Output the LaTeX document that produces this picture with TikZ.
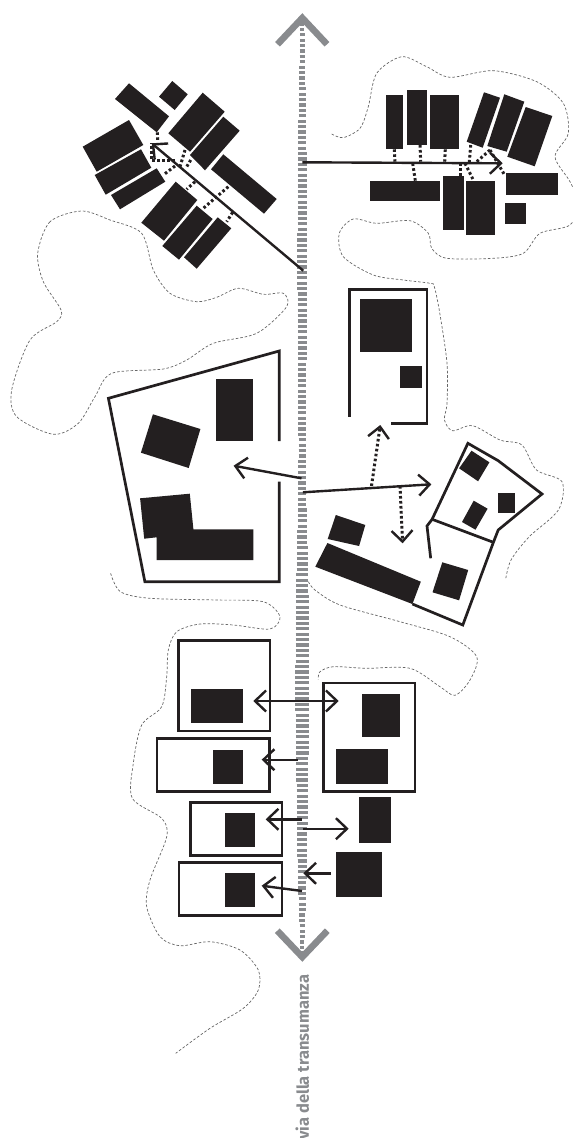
\documentclass[tikz,border=0pt]{standalone}
\usepackage{fontspec}
\setmainfont{Fira Sans}
\usetikzlibrary{arrows.meta}
\definecolor{hutblack}{HTML}{231F20}
\definecolor{roadgray}{HTML}{898B8E}

\begin{document}
\begin{tikzpicture}[
		x=1pt, y=-1pt,
		hut/.style={fill=hutblack},
		wall/.style={draw=hutblack, line width=2.7pt, miter limit=10},
		arrow/.style={draw=hutblack, line width=2.4pt, -{Straight Barb[length=11pt,width=21pt,line width=2.4pt]}},
		twoway/.style={draw=hutblack, line width=2.4pt, {Straight Barb[length=11pt,width=21pt,line width=2.4pt]}-{Straight Barb[length=11pt,width=21pt,line width=2.4pt]}},
		dotlink/.style={draw=hutblack, line width=3pt, dash pattern=on 2.6pt off 2.4pt},
		hedge/.style={draw=black!60, line width=0.7pt, dash pattern=on 2.6pt off 1.9pt},
		rung/.style={draw=roadgray, line width=3.2pt},
		chevron/.style={draw=roadgray, line width=6.6pt, miter limit=10}
		]
		\useasboundingbox (0,0) rectangle (573,1138);
		
		% hedges
		\draw [hedge] plot[smooth] coordinates {(331.7,134) (343.3,137.7) (360,128.3) (368.3,106.7) (376.7,73.3) (401.7,56.7) (426.7,66.7) (450,77.3) (493.3,70.7) (536.7,81.7) (563.3,103.3) (568.3,133.3) (555,156.7) (570,181.7) (578,203) (570,225) (540,233.3) (523.3,253.3) (493.3,258.3) (446.7,258.3) (431.7,248.3) (428.3,233.3) (410,220.7) (376.7,223.3) (353.3,219) (339.3,233.3) (343.3,256.7) (373.3,275) (403.3,280) (430,283.3) (434.3,286.7) (439.8,313.3) (447,363.3) (447,403.3) (444.5,420) (452.6,430.7) (472.6,425.7) (500,440) (521.9,445) (536.5,470) (562,481.7) (558.4,510) (529.2,536.7) (511,560) (505.5,580)};
		\draw [hedge] plot[smooth cycle] coordinates {(81.7,211) (50,221.7) (37.7,253.3) (43.3,281.7) (61,310) (56.7,321.7) (30,340) (11.7,390) (16.7,416.7) (53.3,434.3) (78.3,423.3) (95,396.7) (111.7,373.3) (163.3,369) (186.7,360) (213.3,343.3) (256.7,333.3) (286.7,306.7) (283.3,293.3) (263.3,294.3) (238.3,288.3) (216.7,297.3) (196.7,301.7) (170,293.3) (153.3,270) (141.7,233.3) (110,220)};
		\draw [hedge] plot[smooth] coordinates {(110.6,573.3) (120.4,591.7) (150,598.3) (216.7,600) (263.3,601.7) (280,616.7) (270,629) (233.3,625) (200,624) (176.7,631.7) (168.3,650) (166.7,676.7) (161.7,706.7) (141.7,725) (133.3,763.3) (132.3,798.3) (161.7,818.3) (166.7,836.7) (150,880) (146.7,906.7) (160,936.7) (180,945.7) (210,941.7) (240,950) (258.3,970) (258.3,990) (243.3,1008.3) (210,1028.3) (175.7,1053.3)};
		\draw [hedge] plot[smooth] coordinates {(308.4,581.7) (315,590) (340,605) (400,621.7) (450,636.7) (476.7,656.7) (470,680) (455,695.3) (440,686.7) (410,668.3) (366.7,668.3) (333.3,666.7) (320,671.7) (318.3,679.3)};
		
		% via della transumanza
		\foreach \na/\wa/\nb/\wb in {0/4/14/7, 14/7/27/9, 27/9/46/10, 46/10/60/8.5, 60/8.5/79/7.5, 79/7.5/88/8, 88/8/99/11, 99/11/108/13, 108/13/125/14, 125/14/144/11, 144/11/155/9.5, 155/9.5/163/7, 163/7/172/3.5} {
			\foreach \n in {\na,...,\nb} {
				\pgfmathsetmacro{\rungw}{\wa+(\wb-\wa)*(\n-\na)/(\nb-\na)}
				\draw [rung] ({302.3-\rungw/2},{24+5.4*\n}) -- ({302.3+\rungw/2},{24+5.4*\n});
			}
		}
		\draw [chevron] (277.5,44.3) -- (302.3,18) -- (327,44.3);
		\draw [chevron] (277.3,930.7) -- (302.3,957) -- (327.3,930.7);
		\node (roadname) at (302.3,1140) [rotate=90, anchor=west, inner sep=0pt, text=roadgray, font=\bfseries\fontsize{16.5}{16.5}\selectfont] {via della transumanza};
		
		% upper left cluster
		\draw [dotlink] (157.3,132.3) -- (157.7,141.7);
		\draw [dotlink] (175,160.7) -- (151.7,160.7) -- (151.7,143);
		\draw [dotlink] (185,150) -- (180,166.7);
		\draw [dotlink] (190.7,160) -- (186.7,166.7);
		\draw [dotlink] (175,166) -- (163.3,175);
		\draw [dotlink] (195,181.7) -- (186.7,189.3);
		\draw [dotlink] (228.3,186.7) -- (203.3,208.3);
		\draw [dotlink] (232.7,212.3) -- (226.7,221.7);
		\fill [hut] (129,83.3) -- (169,116.3) -- (156.7,132.3) -- (115,99) -- cycle;
		\fill [hut] (172.3,81) -- (187.7,94.3) -- (174.7,110) -- (159,96.7) -- cycle;
		\fill [hut] (202.7,92.7) -- (224.7,111.7) -- (190,151.7) -- (168.3,133.3) -- cycle;
		\fill [hut] (223.3,116.7) -- (239.7,130.7) -- (205,170.3) -- (190,155) -- cycle;
		\fill [hut] (223.3,154.3) -- (276.7,199) -- (264,213.7) -- (211,169.3) -- cycle;
		\fill [hut] (129,120) -- (143.3,145) -- (96.7,171.7) -- (82.7,146.7) -- cycle;
		\fill [hut] (141,149.3) -- (151.3,167.7) -- (105.7,194.7) -- (94.7,175) -- cycle;
		\fill [hut] (156.7,168.3) -- (165.3,181.7) -- (120,209.3) -- (111,195) -- cycle;
		\fill [hut] (175.7,181.7) -- (197.3,200) -- (164,240.7) -- (141.3,222.7) -- cycle;
		\fill [hut] (196.7,205.7) -- (212.7,219) -- (179,259.7) -- (162.3,246) -- cycle;
		\fill [hut] (217.7,217.3) -- (231.3,228.3) -- (196.7,268.7) -- (184,257.3) -- cycle;
		\draw [arrow] (303.3,270.7) -- (151.7,143.3);
		
		% upper right cluster
		\draw [dotlink] (394.3,149.3) -- (395,161.7);
		\draw [dotlink] (420,145) -- (420.7,161.7);
		\draw [dotlink] (445.3,149.3) -- (444.7,161.7);
		\draw [dotlink] (470.7,145) -- (469.3,162.3);
		\draw [dotlink] (490,150) -- (476.7,161.7);
		\draw [dotlink] (490,150) -- (505,175.7);
		\draw [dotlink] (412.7,163.3) -- (415.3,180.7);
		\draw [dotlink] (460,163.3) -- (460,176);
		\draw [dotlink] (465,163.3) -- (473.3,180);
		\fill [hut] (386.3,95) rectangle (403.3,149);
		\fill [hut] (406.7,90.3) rectangle (427.3,144.7);
		\fill [hut] (430,95) rectangle (459,149);
		\fill [hut] (484,92.3) -- (500,97.7) -- (482.7,147.7) -- (466.7,141.7) -- cycle;
		\fill [hut] (504.3,94.3) -- (524.3,101.7) -- (506.7,151.7) -- (487.3,146) -- cycle;
		\fill [hut] (525.7,107) -- (552.3,116) -- (534.7,166.3) -- (507.3,156.7) -- cycle;
		\fill [hut] (370,180.7) rectangle (439.7,201.3);
		\fill [hut] (442.7,176.3) rectangle (464,230.3);
		\fill [hut] (466.3,180.7) rectangle (495.3,235);
		\fill [hut] (505.7,172.7) rectangle (558,195.3);
		\fill [hut] (505.3,203.3) rectangle (526.3,224.3);
		\draw [arrow] (302.3,162.3) -- (502.7,163.3);
		
		% middle left parcel
		\draw [wall] (279.2,441) -- (279.2,351) -- (108.4,398.3) -- (144.9,581.7) -- (279.2,581.7) -- (279.2,481.7);
		\fill [hut] (216,379) rectangle (253.3,441);
		\fill [hut] (152.9,414.3) -- (200.4,429) -- (188.7,468) -- (140.9,452.7) -- cycle;
		\fill [hut] (140.1,498.3) -- (189.8,493.7) -- (193.4,529.3) -- (253.3,529.3) -- (253.3,560) -- (156.6,560) -- (156.6,537.3) -- (144.2,538.7) -- cycle;
		\draw [arrow] (301.5,478.3) -- (233.6,465.7);
		
		% middle right parcels
		\draw [wall] (349.3,416.7) -- (349.3,289.3) -- (427,289.3) -- (427,423.3) -- (391.2,423.3);
		\fill [hut] (359.5,299.3) rectangle (412,351.7);
		\fill [hut] (400,366.3) rectangle (421.5,387.7);
		\draw [wall] (430.7,558.3) -- (427,526) -- (432.1,519.3) -- (467.9,443.3) -- (498.2,460.7) -- (542,494) -- (498.2,530) -- (493.4,542.3) -- (462.8,625) -- (412.4,604);
		\draw [wall] (432.1,519.3) -- (493.4,542.3);
		\fill [hut] (471.5,450.7) -- (489.4,462.3) -- (478.1,481.3) -- (459.1,468.3) -- cycle;
		\fill [hut] (498.2,492.7) rectangle (515.3,512.7);
		\fill [hut] (473.7,500.7) -- (487.6,508.7) -- (475.5,529.7) -- (462,522) -- cycle;
		\fill [hut] (335.8,515) -- (365.3,525) -- (359.1,546) -- (327.7,539) -- cycle;
		\fill [hut] (327.4,543) -- (420.8,581.7) -- (412.4,604) -- (315.3,566.7) -- cycle;
		\fill [hut] (442.3,562.3) -- (468.2,570) -- (459.1,600.3) -- (432.5,592.3) -- cycle;
		\draw [arrow] (302.9,492.3) -- (431.4,484.3);
		\draw [arrow, line width=3pt, dash pattern=on 2.6pt off 2.4pt] (371.5,486) -- (380.3,425);
		\draw [arrow, line width=3pt, dash pattern=on 2.6pt off 2.4pt] (400,486) -- (402.6,543.3);
		
		% lower plots
		\draw [wall] (178.7,640.3) rectangle (270,731);
		\draw [wall] (157,738.3) rectangle (269.7,791.3);
		\draw [wall] (190.7,802.3) rectangle (282,855.3);
		\draw [wall] (179,862.7) rectangle (282,915.3);
		\draw [wall] (323.7,683) rectangle (415,791.3);
		\fill [hut] (191,689.3) rectangle (242.7,723.3);
		\fill [hut] (213,749.7) rectangle (242.7,783.7);
		\fill [hut] (225.3,813.3) rectangle (255,847.3);
		\fill [hut] (225,873.3) rectangle (254.7,907.3);
		\fill [hut] (362,694.3) rectangle (400.3,736.7);
		\fill [hut] (336.3,749.3) rectangle (388,783.7);
		\fill [hut] (359,797.3) rectangle (391,842.7);
		\fill [hut] (336.3,852.3) rectangle (381.7,897.3);
		\draw [twoway] (253.3,701) -- (338.7,701);
		\draw [arrow] (297.7,759.7) -- (261.7,759.7);
		\draw [arrow] (302,819.3) -- (265.7,819.3);
		\draw [arrow] (302.7,828.7) -- (348.7,828.7);
		\draw [arrow] (330.7,873.3) -- (303.3,873.3);
		\draw [arrow] (302,891) -- (261.7,885.7);
	\end{tikzpicture}
\end{document}
